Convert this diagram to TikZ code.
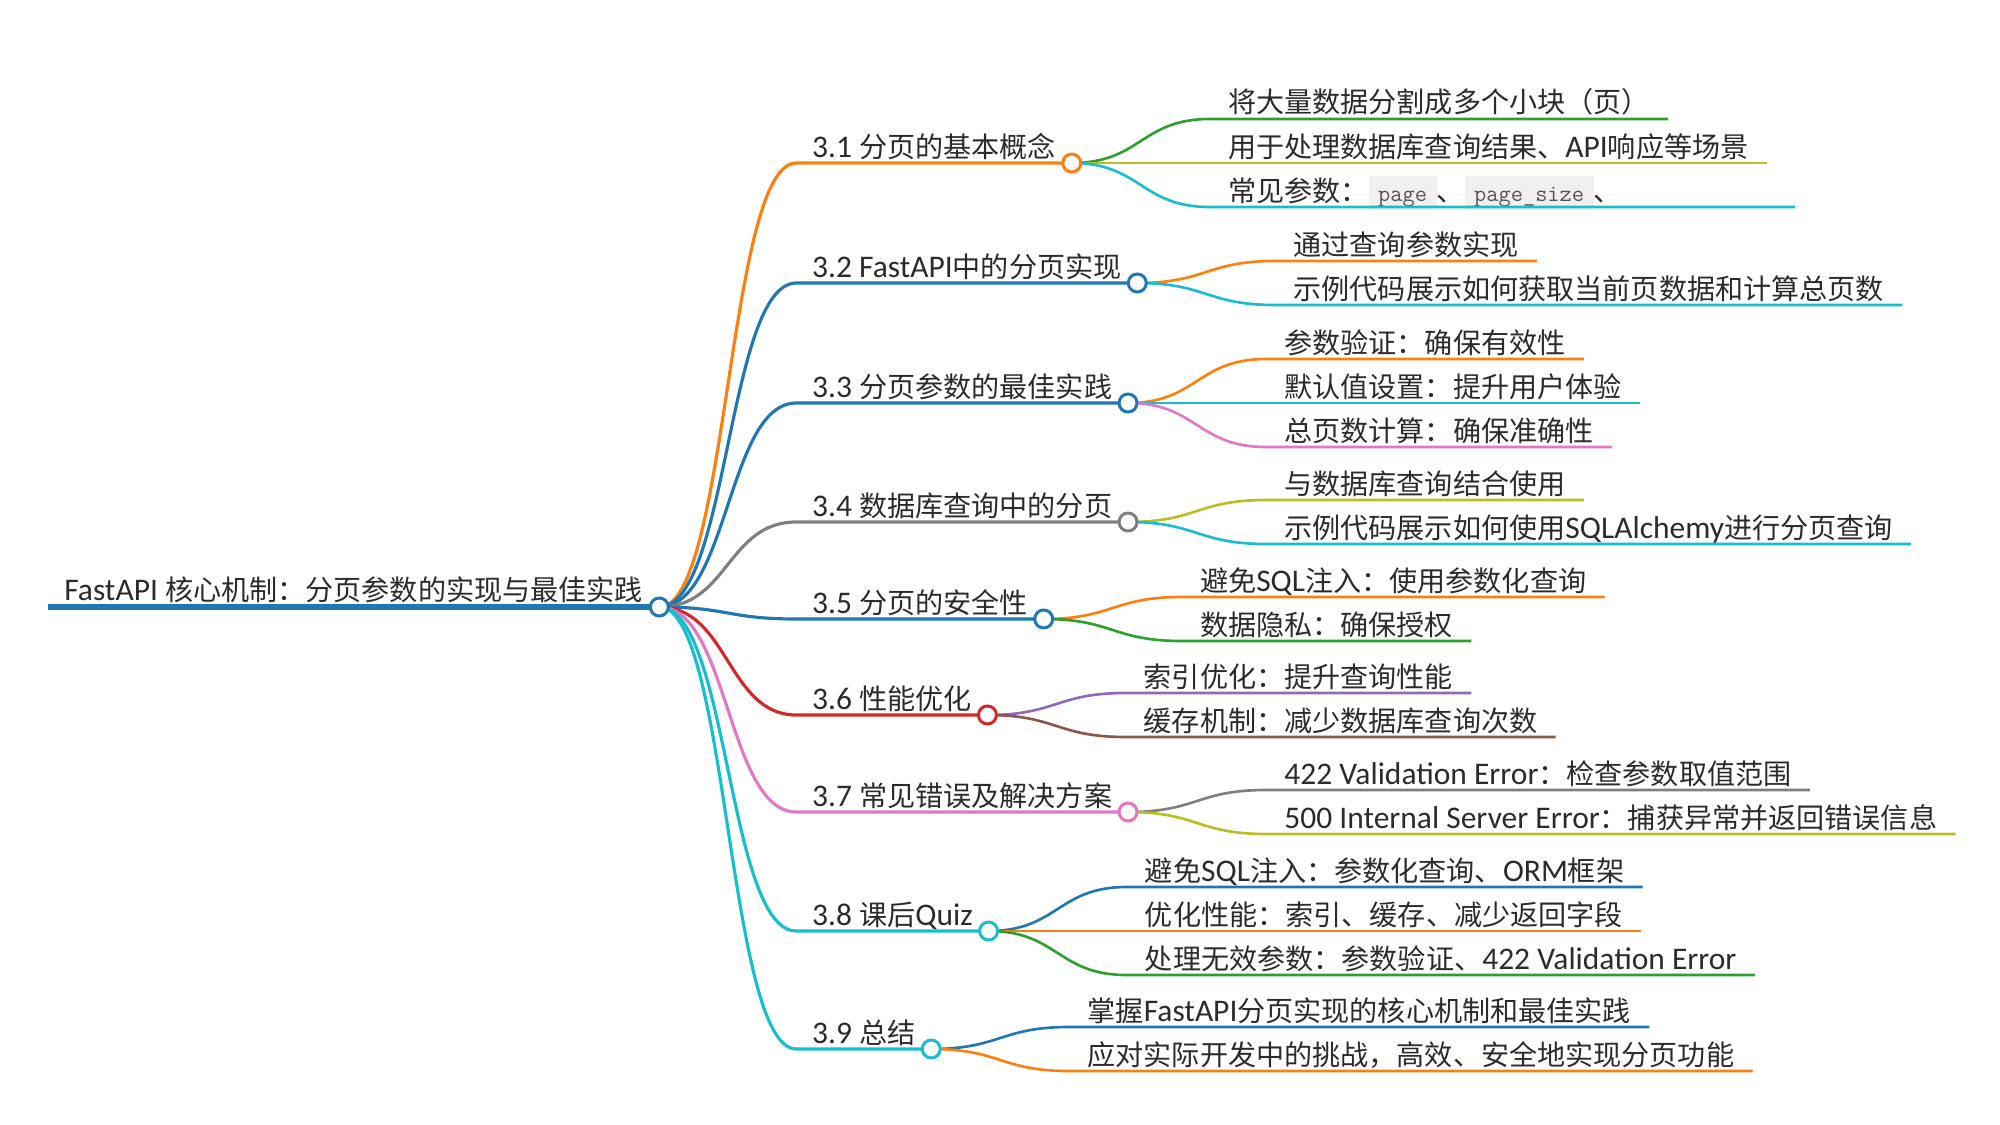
\documentclass[tikz,border=0pt]{standalone}
\usepackage{fontspec}
\setmainfont{Noto Sans CJK SC}
\newfontfamily\enfont[Scale=1.12]{Carlito}
\usepackage{xcolor}
\usepackage{tikz}
\definecolor{mmblue}{HTML}{1F77B4}
\definecolor{mmorange}{HTML}{FF7F0E}
\definecolor{mmgreen}{HTML}{2CA02C}
\definecolor{mmred}{HTML}{D62728}
\definecolor{mmpurple}{HTML}{9467BD}
\definecolor{mmbrown}{HTML}{8C564B}
\definecolor{mmpink}{HTML}{E377C2}
\definecolor{mmgray}{HTML}{7F7F7F}
\definecolor{mmolive}{HTML}{BCBD22}
\definecolor{mmcyan}{HTML}{17BECF}
\definecolor{mmtext}{HTML}{2B2B2B}
\definecolor{chipbg}{HTML}{F0F0F0}
\definecolor{chiptext}{HTML}{555555}
\newcommand{\chip}[1]{{\setlength{\fboxsep}{0.08cm}\colorbox{chipbg}{\hspace{0.11cm}\rule[-0.1cm]{0pt}{0.52cm}\color{chiptext}\ttfamily\fontsize{13.5}{13.5}\selectfont #1\hspace{0.11cm}}}}

\begin{document}
\begin{tikzpicture}[
        x=0.02cm, y=-0.02cm,
        every node/.style={font=\fontsize{16}{19}\selectfont, text=mmtext},
        roottext/.style={anchor=base west, yshift=0.14cm, inner xsep=0.32cm, inner ysep=0pt},
        topic/.style={anchor=base west, yshift=0.12cm, inner xsep=0.31cm, inner ysep=0pt},
        leaf/.style={anchor=base west, yshift=0.12cm, inner xsep=0.36cm, inner ysep=0pt},
        hub/.style={circle, draw=#1, fill=white, line width=1.7pt, minimum size=0.36cm, inner sep=0pt},
        rootline/.style={draw=mmblue, line width=3.4pt},
        branch/.style={draw=#1, line width=1.8pt},
        twig/.style={draw=#1, line width=1.5pt}
    ]
        \useasboundingbox (0,0) rectangle (2000,1125);

        \coordinate (r0) at (48,607);
        \node[roottext] (rt) at (r0) {{\enfont FastAPI }核心机制：分页参数的实现与最佳实践};
        \coordinate (rc) at (rt.east |- r0);
        \draw[rootline] (r0) -- (rc);

        \coordinate (s1) at ([shift={(137,-444)}]rc);
        \coordinate (s2) at ([shift={(137,-324)}]rc);
        \coordinate (s3) at ([shift={(137,-204)}]rc);
        \coordinate (s4) at ([shift={(137,-85)}]rc);
        \coordinate (s5) at ([shift={(137,12)}]rc);
        \coordinate (s6) at ([shift={(137,108)}]rc);
        \coordinate (s7) at ([shift={(137,205)}]rc);
        \coordinate (s8) at ([shift={(137,324)}]rc);
        \coordinate (s9) at ([shift={(137,442)}]rc);

        \node[topic] (t1) at (s1) {{\enfont 3.1 }分页的基本概念};
        \node[topic] (t2) at (s2) {{\enfont 3.2 FastAPI}中的分页实现};
        \node[topic] (t3) at (s3) {{\enfont 3.3 }分页参数的最佳实践};
        \node[topic] (t4) at (s4) {{\enfont 3.4 }数据库查询中的分页};
        \node[topic] (t5) at (s5) {{\enfont 3.5 }分页的安全性};
        \node[topic] (t6) at (s6) {{\enfont 3.6 }性能优化};
        \node[topic] (t7) at (s7) {{\enfont 3.7 }常见错误及解决方案};
        \node[topic] (t8) at (s8) {{\enfont 3.8 }课后{\enfont Quiz}};
        \node[topic] (t9) at (s9) {{\enfont 3.9 }总结};

        \coordinate (c1) at (t1.east |- s1);
        \coordinate (c2) at (t2.east |- s2);
        \coordinate (c3) at (t3.east |- s3);
        \coordinate (c4) at (t4.east |- s4);
        \coordinate (c5) at (t5.east |- s5);
        \coordinate (c6) at (t6.east |- s6);
        \coordinate (c7) at (t7.east |- s7);
        \coordinate (c8) at (t8.east |- s8);
        \coordinate (c9) at (t9.east |- s9);

        \draw[branch=mmorange] (rc) .. controls +(69,0) and +(-69,0) .. (s1) -- (c1);
        \draw[branch=mmblue] (rc) .. controls +(69,0) and +(-69,0) .. (s2) -- (c2);
        \draw[branch=mmblue] (rc) .. controls +(69,0) and +(-69,0) .. (s3) -- (c3);
        \draw[branch=mmgray] (rc) .. controls +(69,0) and +(-69,0) .. (s4) -- (c4);
        \draw[branch=mmblue] (rc) .. controls +(69,0) and +(-69,0) .. (s5) -- (c5);
        \draw[branch=mmred] (rc) .. controls +(69,0) and +(-69,0) .. (s6) -- (c6);
        \draw[branch=mmpink] (rc) .. controls +(69,0) and +(-69,0) .. (s7) -- (c7);
        \draw[branch=mmcyan] (rc) .. controls +(69,0) and +(-69,0) .. (s8) -- (c8);
        \draw[branch=mmcyan] (rc) .. controls +(69,0) and +(-69,0) .. (s9) -- (c9);

        \coordinate (s11) at ([shift={(138,-44)}]c1);
        \coordinate (s12) at ([shift={(138,0)}]c1);
        \coordinate (s13) at ([shift={(138,44)}]c1);
        \node[leaf] (l11) at (s11) {将大量数据分割成多个小块（页）};
        \node[leaf] (l12) at (s12) {用于处理数据库查询结果、{\enfont API}响应等场景};
        \node[leaf] (l13) at (s13) {常见参数：\chip{page}、\chip{page\_size}、\hspace*{3.1cm}};
        \draw[twig=mmgreen] (c1) .. controls +(69,0) and +(-69,0) .. (s11) -- (l11.east |- s11);
        \draw[twig=mmolive] (c1) -- (s12) -- (l12.east |- s12);
        \draw[twig=mmcyan] (c1) .. controls +(69,0) and +(-69,0) .. (s13) -- (l13.east |- s13);

        \coordinate (s21) at ([shift={(138,-22)}]c2);
        \coordinate (s22) at ([shift={(138,22)}]c2);
        \node[leaf] (l21) at (s21) {通过查询参数实现};
        \node[leaf] (l22) at (s22) {示例代码展示如何获取当前页数据和计算总页数};
        \draw[twig=mmorange] (c2) .. controls +(69,0) and +(-69,0) .. (s21) -- (l21.east |- s21);
        \draw[twig=mmcyan] (c2) .. controls +(69,0) and +(-69,0) .. (s22) -- (l22.east |- s22);

        \coordinate (s31) at ([shift={(138,-44)}]c3);
        \coordinate (s32) at ([shift={(138,0)}]c3);
        \coordinate (s33) at ([shift={(138,44)}]c3);
        \node[leaf] (l31) at (s31) {参数验证：确保有效性};
        \node[leaf] (l32) at (s32) {默认值设置：提升用户体验};
        \node[leaf] (l33) at (s33) {总页数计算：确保准确性};
        \draw[twig=mmorange] (c3) .. controls +(69,0) and +(-69,0) .. (s31) -- (l31.east |- s31);
        \draw[twig=mmcyan] (c3) -- (s32) -- (l32.east |- s32);
        \draw[twig=mmpink] (c3) .. controls +(69,0) and +(-69,0) .. (s33) -- (l33.east |- s33);

        \coordinate (s41) at ([shift={(138,-22)}]c4);
        \coordinate (s42) at ([shift={(138,22)}]c4);
        \node[leaf] (l41) at (s41) {与数据库查询结合使用};
        \node[leaf] (l42) at (s42) {示例代码展示如何使用{\enfont SQLAlchemy}进行分页查询};
        \draw[twig=mmolive] (c4) .. controls +(69,0) and +(-69,0) .. (s41) -- (l41.east |- s41);
        \draw[twig=mmcyan] (c4) .. controls +(69,0) and +(-69,0) .. (s42) -- (l42.east |- s42);

        \coordinate (s51) at ([shift={(138,-22)}]c5);
        \coordinate (s52) at ([shift={(138,22)}]c5);
        \node[leaf] (l51) at (s51) {避免{\enfont SQL}注入：使用参数化查询};
        \node[leaf] (l52) at (s52) {数据隐私：确保授权};
        \draw[twig=mmorange] (c5) .. controls +(69,0) and +(-69,0) .. (s51) -- (l51.east |- s51);
        \draw[twig=mmgreen] (c5) .. controls +(69,0) and +(-69,0) .. (s52) -- (l52.east |- s52);

        \coordinate (s61) at ([shift={(138,-22)}]c6);
        \coordinate (s62) at ([shift={(138,22)}]c6);
        \node[leaf] (l61) at (s61) {索引优化：提升查询性能};
        \node[leaf] (l62) at (s62) {缓存机制：减少数据库查询次数};
        \draw[twig=mmpurple] (c6) .. controls +(69,0) and +(-69,0) .. (s61) -- (l61.east |- s61);
        \draw[twig=mmbrown] (c6) .. controls +(69,0) and +(-69,0) .. (s62) -- (l62.east |- s62);

        \coordinate (s71) at ([shift={(138,-22)}]c7);
        \coordinate (s72) at ([shift={(138,22)}]c7);
        \node[leaf] (l71) at (s71) {{\enfont 422 Validation Error}：检查参数取值范围};
        \node[leaf] (l72) at (s72) {{\enfont 500 Internal Server Error}：捕获异常并返回错误信息};
        \draw[twig=mmgray] (c7) .. controls +(69,0) and +(-69,0) .. (s71) -- (l71.east |- s71);
        \draw[twig=mmolive] (c7) .. controls +(69,0) and +(-69,0) .. (s72) -- (l72.east |- s72);

        \coordinate (s81) at ([shift={(138,-44)}]c8);
        \coordinate (s82) at ([shift={(138,0)}]c8);
        \coordinate (s83) at ([shift={(138,44)}]c8);
        \node[leaf] (l81) at (s81) {避免{\enfont SQL}注入：参数化查询、{\enfont ORM}框架};
        \node[leaf] (l82) at (s82) {优化性能：索引、缓存、减少返回字段};
        \node[leaf] (l83) at (s83) {处理无效参数：参数验证、{\enfont 422 Validation Error}};
        \draw[twig=mmblue] (c8) .. controls +(69,0) and +(-69,0) .. (s81) -- (l81.east |- s81);
        \draw[twig=mmorange] (c8) -- (s82) -- (l82.east |- s82);
        \draw[twig=mmgreen] (c8) .. controls +(69,0) and +(-69,0) .. (s83) -- (l83.east |- s83);

        \coordinate (s91) at ([shift={(138,-22)}]c9);
        \coordinate (s92) at ([shift={(138,22)}]c9);
        \node[leaf] (l91) at (s91) {掌握{\enfont FastAPI}分页实现的核心机制和最佳实践};
        \node[leaf] (l92) at (s92) {应对实际开发中的挑战，高效、安全地实现分页功能};
        \draw[twig=mmblue] (c9) .. controls +(69,0) and +(-69,0) .. (s91) -- (l91.east |- s91);
        \draw[twig=mmorange] (c9) .. controls +(69,0) and +(-69,0) .. (s92) -- (l92.east |- s92);

        \node[hub=mmblue] (h0) at (rc) {};
        \node[hub=mmorange] (h1) at (c1) {};
        \node[hub=mmblue] (h2) at (c2) {};
        \node[hub=mmblue] (h3) at (c3) {};
        \node[hub=mmgray] (h4) at (c4) {};
        \node[hub=mmblue] (h5) at (c5) {};
        \node[hub=mmred] (h6) at (c6) {};
        \node[hub=mmpink] (h7) at (c7) {};
        \node[hub=mmcyan] (h8) at (c8) {};
        \node[hub=mmcyan] (h9) at (c9) {};
    \end{tikzpicture}
\end{document}
